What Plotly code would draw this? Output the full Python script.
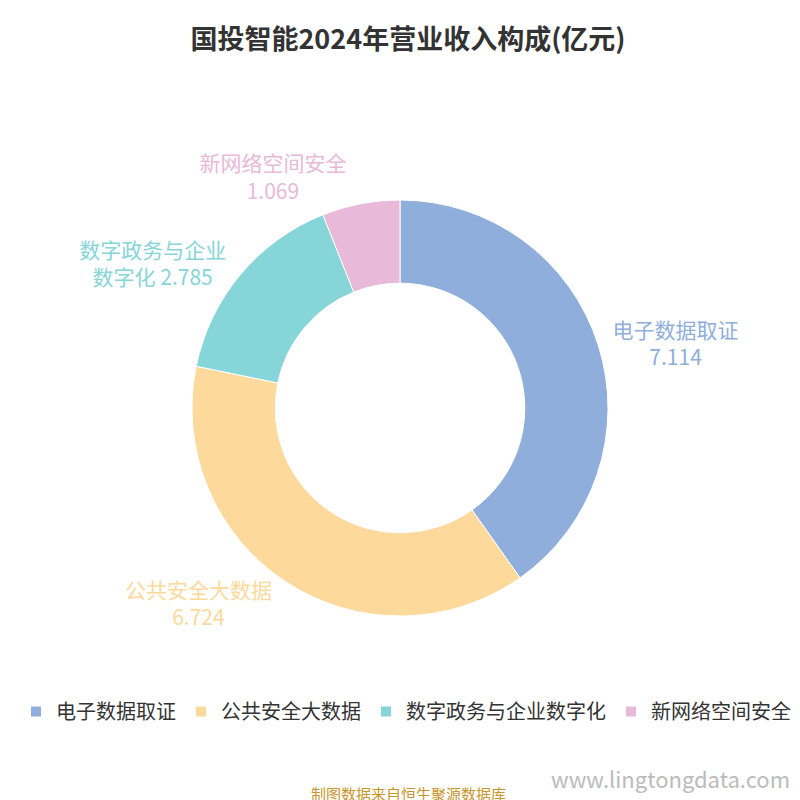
import plotly.graph_objects as go

labels = ["电子数据取证", "公共安全大数据", "数字政务与企业数字化", "新网络空间安全"]
text_labels = ["电子数据取证<br>7.114", "公共安全大数据<br>6.724", "数字政务与企业<br>数字化 2.785", "新网络空间安全<br>1.069"]
values = [7.114, 6.724, 2.785, 1.069]
colors = ["#8FAEDB", "#FDD99B", "#86D5D8", "#E8B9D9"]

fig = go.Figure()
fig.add_trace(go.Pie(
    labels=labels, values=values, customdata=text_labels,
    hole=0.6, sort=False, direction="clockwise", rotation=0,
    marker=dict(colors=colors, line=dict(color="white", width=1)),
    textposition="outside",
    texttemplate="%{customdata}",
    textfont=dict(color=colors, size=21),
    domain=dict(x=[0.23, 0.75], y=[0.24, 0.76]),
    hoverinfo="label+value+percent",
))

fig.update_layout(
    width=800, height=800,
    margin=dict(l=0, r=0, t=0, b=0),
    paper_bgcolor="white",
    font=dict(family="Noto Sans CJK SC"),
    title=dict(text="<b>国投智能2024年营业收入构成(亿元)</b>", x=0.5, y=0.972,
               xanchor="center", font=dict(size=27, color="#333333")),
    legend=dict(orientation="h", x=0.01, y=0.145, xanchor="left", yanchor="top",
                font=dict(size=20, color="#333333"), itemwidth=30,
                itemsizing="constant"),
    annotations=[
        dict(text="制图数据来自恒生聚源数据库", x=0.5, y=0.003, xref="paper", yref="paper",
             xanchor="center", yanchor="bottom", showarrow=False,
             font=dict(size=15, color="#C8952B")),
        dict(text="www.lingtongdata.com", x=0.98, y=0.015, xref="paper", yref="paper",
             xanchor="right", yanchor="bottom", showarrow=False,
             font=dict(size=22, color="#BBBBBB")),
    ],
)

fig.write_html("out.html")
